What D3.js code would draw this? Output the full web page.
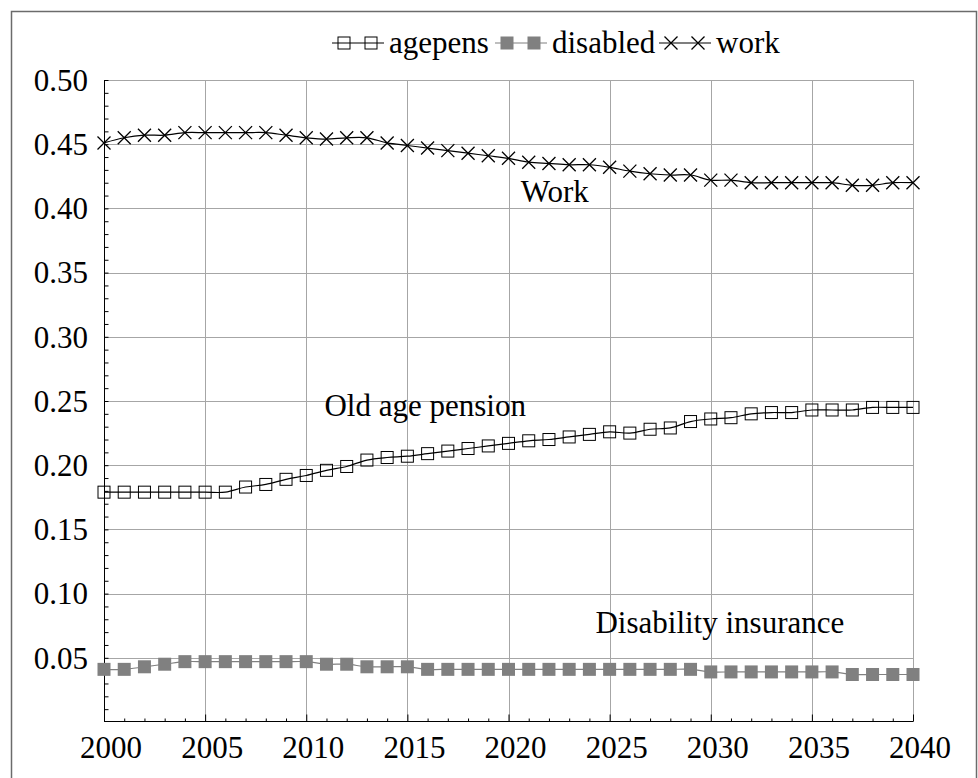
<!DOCTYPE html>
<html>
<head>
<meta charset="utf-8">
<script src="https://cdn.jsdelivr.net/npm/d3@7"></script>
<style>
  body { margin: 0; background: #fff; }
  svg text { font-family: "Liberation Serif", "Times New Roman", serif; }
</style>
</head>
<body>
<div id="chart"></div>
<script>
// data
var years = d3.range(2000, 2041);
var agepens = [0.179,0.179,0.179,0.179,0.179,0.179,0.179,0.183,0.185,0.189,
               0.192,0.196,0.199,0.204,0.206,0.207,0.209,0.211,0.213,0.215,
               0.217,0.219,0.220,0.222,0.224,0.226,0.225,0.228,0.229,0.234,
               0.236,0.237,0.240,0.241,0.241,0.243,0.243,0.243,0.245,0.245,0.245];
var disabled = [0.041,0.041,0.043,0.045,0.047,0.047,0.047,0.047,0.047,0.047,
                0.047,0.045,0.045,0.043,0.043,0.043,0.041,0.041,0.041,0.041,
                0.041,0.041,0.041,0.041,0.041,0.041,0.041,0.041,0.041,0.041,
                0.039,0.039,0.039,0.039,0.039,0.039,0.039,0.037,0.037,0.037,0.037];
var work = [0.451,0.455,0.457,0.457,0.459,0.459,0.459,0.459,0.459,0.457,
            0.455,0.454,0.455,0.455,0.451,0.449,0.447,0.445,0.443,0.441,
            0.439,0.436,0.435,0.434,0.434,0.432,0.429,0.427,0.426,0.426,
            0.422,0.422,0.420,0.420,0.420,0.420,0.420,0.418,0.418,0.420,0.420];
var seriesNames = ["agepens", "disabled", "work"];
var yTicks = [0.05,0.10,0.15,0.20,0.25,0.30,0.35,0.40,0.45,0.50];
var xTicks = [2000,2005,2010,2015,2020,2025,2030,2035,2040];
var notes = ["Work", "Old age pension", "Disability insurance"];
var noteAt = [[2020.6, 0.405], [2010.9, 0.238], [2024.3, 0.069]];

var W = 978, H = 778;
var margin = {top: 80, right: 65, bottom: 56, left: 104};
var FONT = "'Liberation Serif', 'Times New Roman', serif";

var x = d3.scaleLinear().domain([2000, 2040]).range([margin.left, W - margin.right]);
var y = d3.scaleLinear().domain([0, 0.5]).range([H - margin.bottom, margin.top]);

var svg = d3.select("#chart").append("svg")
  .attr("width", W).attr("height", H)
  .attr("font-family", FONT);

// outer frame
svg.append("rect")
  .attr("x", 11.5).attr("y", 11.5)
  .attr("width", W - 13).attr("height", H + 20)
  .attr("fill", "none").attr("stroke", "#6b6b6b").attr("stroke-width", 1.5);

// grid
svg.append("g").selectAll("line").data(yTicks).join("line")
  .attr("x1", x(2000)).attr("x2", x(2040))
  .attr("y1", d => Math.round(y(d)) + 0.5).attr("y2", d => Math.round(y(d)) + 0.5)
  .attr("stroke", "#a6a6a6").attr("stroke-width", 1);
svg.append("g").selectAll("line").data(xTicks.slice(1)).join("line")
  .attr("x1", d => Math.round(x(d)) + 0.5).attr("x2", d => Math.round(x(d)) + 0.5)
  .attr("y1", y(0.5)).attr("y2", y(0))
  .attr("stroke", "#a6a6a6").attr("stroke-width", 1);

// y axis
var yAx = svg.append("g").attr("transform", "translate(" + (x(2000) + 0.5) + ",0)")
  .call(d3.axisRight(y).tickValues(d3.range(1, 51).map(i => i / 100)).tickSize(4).tickFormat(""));
yAx.select(".domain").attr("d", "M0," + y(0.5) + "V" + y(0));
yAx.selectAll("line").attr("stroke", "#000");

svg.append("g").selectAll("text").data(yTicks).join("text")
  .attr("x", x(2000) - 16).attr("y", d => y(d))
  .attr("dy", "0.35em").attr("text-anchor", "end")
  .attr("font-family", FONT).attr("font-size", 31).text(d => d.toFixed(2));

// x axis
var xAx = svg.append("g").attr("transform", "translate(0," + (y(0) - 0.5) + ")")
  .call(d3.axisTop(x).tickValues(years).tickSize(3).tickFormat(""));
xAx.selectAll(".tick line").attr("y2", d => d % 5 === 0 ? -7 : -3).attr("stroke", "#000");
xAx.select(".domain").attr("d", "M" + x(2000) + ",0H" + x(2040));

svg.append("g").selectAll("text").data(xTicks).join("text")
  .attr("x", d => x(d) + 7).attr("y", y(0) + 36)
  .attr("text-anchor", "middle").attr("font-family", FONT).attr("font-size", 31).text(d => d);

// series
var smooth = d3.line().x((d, i) => x(years[i])).y(d => y(d)).curve(d3.curveCatmullRom.alpha(0.5));

var styles = {
  agepens: {line: "#000", sym: "open"},
  disabled: {line: "#808080", sym: "filled"},
  work: {line: "#000", sym: "cross"}
};
var values = {agepens: agepens, disabled: disabled, work: work};

function marker(g, kind, cx, cy) {
  if (kind === "open") {
    g.append("rect").attr("x", cx - 6).attr("y", cy - 6).attr("width", 12).attr("height", 12)
      .attr("fill", "none").attr("stroke", "#000").attr("stroke-width", 1);
  } else if (kind === "filled") {
    g.append("rect").attr("x", cx - 6.5).attr("y", cy - 6.5).attr("width", 13).attr("height", 13)
      .attr("fill", "#808080");
  } else {
    g.append("path").attr("d", "M" + (cx - 6.5) + "," + (cy - 6.5) + "L" + (cx + 6.5) + "," + (cy + 6.5) +
        "M" + (cx + 6.5) + "," + (cy - 6.5) + "L" + (cx - 6.5) + "," + (cy + 6.5))
      .attr("stroke", "#000").attr("stroke-width", 1.3).attr("fill", "none");
  }
}

seriesNames.forEach(function(name) {
  var st = styles[name], vals = values[name];
  svg.append("path").datum(vals).attr("d", smooth)
    .attr("fill", "none").attr("stroke", st.line).attr("stroke-width", 1.2);
  var g = svg.append("g");
  vals.forEach(function(v, i) { marker(g, st.sym, x(years[i]), y(v)); });
});

// annotations
svg.append("g").selectAll("text").data(notes).join("text")
  .attr("x", (d, i) => x(noteAt[i][0])).attr("y", (d, i) => y(noteAt[i][1]))
  .attr("font-family", FONT).attr("font-size", 31).text(d => d);

// legend
var legX = [332, 495, 659];
var legend = svg.append("g");
seriesNames.forEach(function(name, i) {
  var st = styles[name];
  var lx = legX[i], ly = 43;
  legend.append("line").attr("x1", lx).attr("x2", lx + 52).attr("y1", ly).attr("y2", ly)
    .attr("stroke", st.line).attr("stroke-width", 1.2);
  marker(legend, st.sym, lx + 12, ly);
  marker(legend, st.sym, lx + 39, ly);
  legend.append("text").attr("x", lx + 57).attr("y", 53)
    .attr("font-family", FONT).attr("font-size", 31).text(name);
});
</script>
</body>
</html>
